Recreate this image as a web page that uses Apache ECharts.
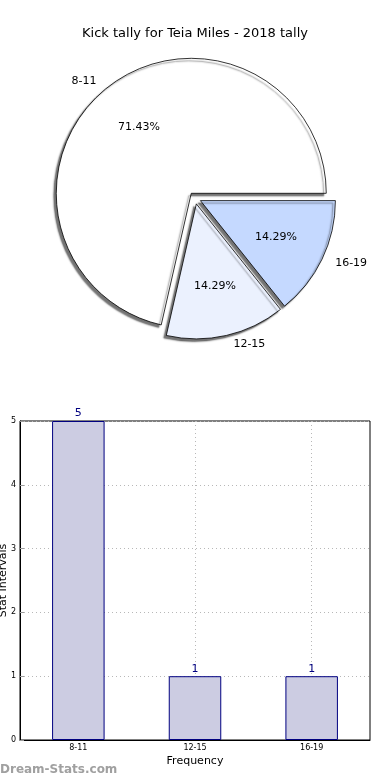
<!DOCTYPE html>
<html><head><meta charset="utf-8">
<script src="https://cdn.jsdelivr.net/npm/echarts@6/dist/echarts.min.js"></script>
<style>html,body{margin:0;padding:0;background:#fff}#c{width:390px;height:780px}</style>
</head><body><div id="c"></div>
<script>
const titleText = 'Kick tally for Teia Miles - 2018 tally';
const categories = ['8-11', '12-15', '16-19'];
const counts = [5, 1, 1];
const pieColors = ['#ffffff', '#ebf1fe', '#c5d9ff'];
const yTicks = [0, 1, 2, 3, 4, 5];
const xAxisName = 'Frequency';
const yAxisName = 'Stat Intervals';
const watermark = 'Dream-Stats.com';

const total = counts.reduce((a, b) => a + b, 0);
const FONT = 'DejaVu Sans';
const R = 135;
const center = [195, 198];

function pieData() {
  return categories.map((c, i) => ({ name: c, value: counts[i], selected: true, itemStyle: { color: pieColors[i] } }));
}

const chart = echarts.init(document.getElementById('c'), null, { renderer: 'canvas' });
chart.setOption({
  animation: false,
  backgroundColor: '#fff',
  title: {
    text: titleText, left: 'center', top: 22,
    textStyle: { fontFamily: FONT, fontSize: 13, fontWeight: 'normal', color: '#000' }
  },
  graphic: [{
    type: 'text', left: 0, top: 764,
    style: { text: watermark, fill: '#a0a0a0', font: 'bold 12px "DejaVu Sans"' }
  }],
  grid: {
    left: 20, right: 20, top: 421, bottom: 40,
    outerBoundsMode: 'none', containLabel: false,
    show: true, borderColor: '#000', borderWidth: 1, backgroundColor: 'transparent'
  },
  xAxis: {
    type: 'category', data: categories,
    name: xAxisName, nameLocation: 'middle', nameGap: 16, nameMoveOverlap: false,
    nameTextStyle: { fontFamily: FONT, fontSize: 11, color: '#000' },
    axisLine: { lineStyle: { color: '#000' } },
    axisTick: { show: true, alignWithLabel: true, inside: true, length: 4, lineStyle: { color: '#999' } },
    axisLabel: { fontFamily: FONT, fontSize: 8, color: '#000', margin: 4 },
    splitLine: { show: true, alignWithLabel: true, lineStyle: { color: '#b8b8b8', type: [1, 3], width: 1 } }
  },
  yAxis: {
    type: 'value', min: yTicks[0], max: yTicks[yTicks.length - 1], interval: 1,
    name: yAxisName, nameLocation: 'middle', nameGap: 11, nameMoveOverlap: false,
    nameTextStyle: { fontFamily: FONT, fontSize: 11, color: '#000' },
    axisLine: { show: true, lineStyle: { color: '#000' } },
    axisTick: { show: true, inside: true, length: 4, lineStyle: { color: '#999' } },
    axisLabel: { fontFamily: FONT, fontSize: 8, color: '#000', margin: 4 },
    splitLine: { show: true, lineStyle: { color: '#b8b8b8', type: [1, 3], width: 1 } }
  },
  series: [
    {
      type: 'bar', data: counts, barWidth: '45%',
      itemStyle: { color: '#ccccE2', borderColor: '#000080', borderWidth: 1 },
      label: { show: true, position: 'top', distance: 2, color: '#000080', fontFamily: FONT, fontSize: 11 }
    },
    {
      type: 'pie', center: center, radius: [0, R],
      startAngle: 0, clockwise: false,
      selectedMode: 'multiple', selectedOffset: 6,
      avoidLabelOverlap: false,
      data: pieData(),
      itemStyle: {
        borderColor: '#000', borderWidth: 0.8,
        shadowColor: 'rgba(0,0,0,0.55)', shadowOffsetX: -2.5, shadowOffsetY: 2.5, shadowBlur: 1.5
      },
      label: { show: true, position: 'outside', formatter: '{b}', fontFamily: FONT, fontSize: 11, color: '#000' },
      labelLine: { show: false, length: 9, length2: 0 },
      emphasis: { disabled: true }
    },
    {
      type: 'pie', center: center, radius: [R * 0.2, R],
      startAngle: 0, clockwise: false,
      selectedMode: 'multiple', selectedOffset: 6,
      silent: true, z: 5,
      data: pieData().map(d => Object.assign(d, { itemStyle: { color: 'transparent', borderWidth: 0 } })),
      label: {
        show: true, position: 'inside', fontFamily: FONT, fontSize: 11, color: '#000',
        formatter: p => (p.value / total * 100).toFixed(2) + '%'
      },
      labelLine: { show: false },
      emphasis: { disabled: true }
    }
  ]
});
</script></body></html>
